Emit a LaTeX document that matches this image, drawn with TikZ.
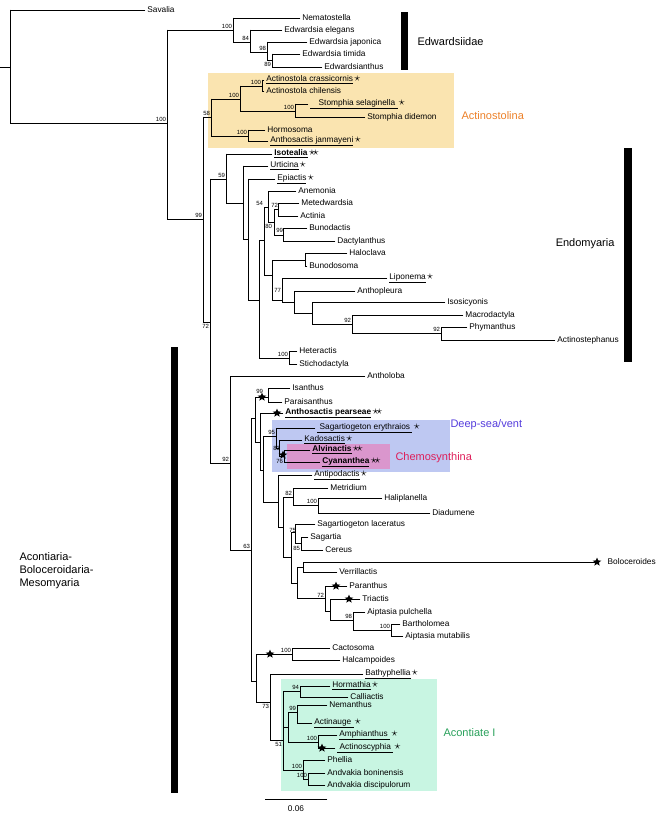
\documentclass[tikz,border=0pt]{standalone}
\usepackage{fontspec}
\setmainfont{Liberation Sans}
\usetikzlibrary{shapes.geometric}

\definecolor{actbox}{RGB}{250,228,176}
\definecolor{acttext}{RGB}{236,128,40}
\definecolor{deepbox}{RGB}{190,200,242}
\definecolor{deeptext}{RGB}{84,60,220}
\definecolor{chembox}{RGB}{218,150,205}
\definecolor{chemtext}{RGB}{222,30,90}
\definecolor{acobox}{RGB}{200,245,226}
\definecolor{acotext}{RGB}{40,160,90}

\tikzset{
  branch/.style={line width=0.75pt, line cap=rect},
  tip/.style={anchor=west, inner sep=2pt, font=\fontsize{8.3}{10}\selectfont},
  boot/.style={inner sep=0.8pt, font=\fontsize{6}{7}\selectfont},
  bstar/.style={star, star points=5, star point ratio=2.3, fill, inner sep=0pt, minimum size=9pt},
  clade/.style={font=\fontsize{11}{13}\selectfont, anchor=west, align=left}
}

\newcommand{\Vb}[3]{\draw[branch] (#1,#2) -- (#1,#3);}
\newcommand{\Hb}[3]{\draw[branch] (#1,#3) -- (#2,#3);}
\newcommand{\Tip}[4]{\draw[branch] (#1,#3) -- (#2,#3) node[tip] {#4};}
\newcommand{\Bs}[3]{\node[boot, anchor=south east] at (#1,#2) {#3};}
\newcommand{\Bsb}[3]{\node[boot, anchor=north east] at (#1,#2) {#3};}
\newcommand{\St}[2]{\node[bstar] at (#1,#2) {};}
\newcommand{\ul}[1]{\underline{#1}}
\newcommand{\sk}{\,{\large$\star$}}
\newcommand{\skk}{\,{\large$\star\!\star$}}

\begin{document}
\begin{tikzpicture}[x=1pt, y=-1pt]
\useasboundingbox (0,0) rectangle (661,821);

    % Clade boxes
    \fill[actbox] (208,73) rectangle (454,148);
    \fill[deepbox] (272,420) rectangle (450,472);
    \fill[chembox] (287,444) rectangle (390,469);
    \fill[acobox] (281,679) rectangle (437,791);

    % Root and Savalia
    \draw[branch] (0,67) -- (10,67);
    \Vb{10}{10}{123}
    \Tip{10}{145}{10}{Savalia}
    \Hb{10}{167}{123} \Bs{167}{123}{100}
    \Vb{167}{30}{219}

    % Edwardsiidae
    \Hb{167}{233}{30} \Bs{233}{30}{100}
    \Vb{233}{18}{42}
    \Tip{233}{300}{18}{Nematostella}
    \Hb{233}{250}{42} \Bs{250}{42}{84}
    \Vb{250}{30}{52}
    \Tip{250}{282}{30}{Edwardsia elegans}
    \Hb{250}{267}{52} \Bs{267}{52}{98}
    \Vb{267}{42}{60}
    \Tip{267}{307}{42}{Edwardsia japonica}
    \Hb{267}{272}{60} \Bsb{272}{61}{89}
    \Vb{272}{54}{67}
    \Tip{272}{300}{54}{Edwardsia timida}
    \Tip{272}{322}{67}{Edwardsianthus}

    % Actinostolina
    \Hb{167}{203}{219} \Bs{203}{219}{99}
    \Vb{203}{117}{322}
    \Hb{203}{211}{117} \Bs{211}{117}{58}
    \Vb{211}{99}{136}
    \Hb{211}{240}{99} \Bs{240}{99}{100}
    \Vb{240}{86}{111}
    \Hb{240}{262}{86} \Bs{262}{86}{100}
    \Vb{262}{80}{91}
    \Tip{262}{264}{80}{\ul{Actinostola crassicornis}\sk}
    \Tip{262}{264}{91}{Actinostola chilensis}
    \Hb{240}{295}{111} \Bs{295}{111}{100}
    \Vb{295}{104}{117}
    \Tip{295}{308}{104}{\ul{\quad Stomphia selaginella\ }\sk}
    \Tip{295}{365}{117}{Stomphia didemon}
    \Hb{211}{248}{136} \Bs{248}{136}{100}
    \Vb{248}{130}{141}
    \Tip{248}{265}{130}{Hormosoma}
    \Tip{248}{268}{141}{\ul{Anthosactis janmayeni}\sk}

    % Endomyaria
    \Hb{203}{210}{322} \Bsb{210}{323}{72}
    \Vb{210}{179}{463}
    \Hb{210}{226}{179} \Bs{226}{179}{59}
    \Vb{226}{154}{203}
    \Tip{226}{272}{154}{\ul{\textbf{Isotealia}}\skk}
    \Hb{226}{243}{203}
    \Vb{243}{166}{239}
    \Tip{243}{268}{166}{\ul{Urticina}\sk}
    \Hb{243}{248}{239}
    \Vb{248}{179}{300}
    \Tip{248}{275}{179}{\ul{Epiactis}\sk}
    \Hb{248}{259}{300}
    \Vb{259}{240}{358}
    \Hb{259}{264}{240}
    \Vb{264}{207}{275}
    \Hb{264}{268}{207} \Bs{264}{207}{54}
    \Vb{268}{191}{222}
    \Tip{268}{296}{191}{Anemonia}
    \Hb{268}{274}{222} \Bsb{273}{223}{80}
    \Vb{274}{209}{235}
    \Hb{274}{278}{209} \Bs{279}{208}{72}
    \Vb{278}{203}{216}
    \Tip{278}{299}{203}{Metedwardsia}
    \Tip{278}{298}{216}{Actinia}
    \Hb{274}{283}{235} \Bs{284}{234}{99}
    \Vb{283}{228}{241}
    \Tip{283}{307}{228}{Bunodactis}
    \Tip{283}{335}{241}{Dactylanthus}
    \Hb{264}{272}{275}
    \Vb{272}{260}{300}
    \Hb{272}{305}{260}
    \Vb{305}{253}{266}
    \Tip{305}{347}{253}{Haloclava}
    \Tip{305}{307}{266}{Bunodosoma}
    \Hb{272}{282}{300} \Bs{282}{293}{77}
    \Vb{282}{278}{302}
    \Tip{282}{387}{278}{\ul{Liponema}\sk}
    \Hb{282}{294}{302}
    \Vb{294}{291}{313}
    \Tip{294}{355}{291}{Anthopleura}
    \Hb{294}{312}{313}
    \Vb{312}{302}{324}
    \Tip{312}{445}{302}{Isosicyonis}
    \Hb{312}{352}{324} \Bs{352}{324}{92}
    \Vb{352}{315}{333}
    \Tip{352}{463}{315}{Macrodactyla}
    \Hb{352}{441}{333} \Bs{441}{333}{92}
    \Vb{441}{327}{340}
    \Tip{441}{467}{327}{Phymanthus}
    \Tip{441}{555}{340}{Actinostephanus}
    \Hb{259}{289}{358} \Bs{289}{358}{100}
    \Vb{289}{351}{364}
    \Tip{289}{297}{351}{Heteractis}
    \Tip{289}{297}{364}{Stichodactyla}

    % Acontiaria-Boloceroidaria-Mesomyaria
    \Hb{210}{230}{463} \Bs{230}{463}{92}
    \Vb{230}{376}{550}
    \Tip{230}{365}{376}{Antholoba}
    \Hb{230}{251}{550} \Bs{251}{550}{63}
    \Vb{251}{418}{681}
    \Hb{251}{255}{418}
    \Vb{255}{397}{442}
    \Hb{255}{268}{397} \Bs{264}{395}{99}
    \Vb{268}{388}{402}
    \Tip{268}{290}{388}{Isanthus}
    \Tip{268}{282}{402}{Paraisanthus}
    \Hb{255}{260}{442}
    \Vb{260}{413}{470}
    \Tip{260}{283}{413}{\ul{\textbf{Anthosactis pearseae}}\skk}
    \Hb{260}{263}{470}
    \Vb{263}{436}{502}
    \Hb{263}{276}{436} \Bs{276}{436}{95}
    \Vb{276}{428}{448}
    \Tip{276}{315}{428}{\ul{\ Sagartiogeton erythraios\ }\sk}
    \Hb{276}{279}{448} \Bs{281}{452}{83}
    \Vb{279}{440}{456}
    \Tip{279}{302}{440}{\ul{Kadosactis}\sk}
    \Hb{279}{284}{456} \Bsb{284}{458}{76}
    \Vb{284}{450}{462}
    \Tip{284}{310}{450}{\ul{\textbf{Alvinactis}}\skk}
    \Tip{284}{320}{462}{\ul{\textbf{Cyananthea}}\skk}
    \Hb{263}{278}{502}
    \Vb{278}{475}{527}
    \Tip{278}{312}{475}{\ul{Antipodactis}\sk}
    \Hb{278}{283}{527}
    \Vb{283}{497}{557}
    \Hb{283}{293}{497} \Bs{293}{497}{82}
    \Vb{293}{488}{505}
    \Tip{293}{328}{488}{Metridium}
    \Hb{293}{318}{505} \Bs{318}{505}{100}
    \Vb{318}{498}{513}
    \Tip{318}{382}{498}{Haliplanella}
    \Tip{318}{430}{513}{Diadumene}
    \Hb{283}{291}{557}
    \Vb{291}{532}{583}
    \Hb{291}{295}{532} \Bs{297}{534}{75}
    \Vb{295}{524}{543}
    \Tip{295}{315}{524}{Sagartiogeton laceratus}
    \Hb{295}{301}{543} \Bsb{301}{545}{85}
    \Vb{301}{537}{550}
    \Tip{301}{308}{537}{Sagartia}
    \Tip{301}{323}{550}{Cereus}
    \Hb{291}{297}{583}
    \Vb{297}{567}{598}
    \Hb{297}{303}{567}
    \Vb{303}{562}{572}
    \Tip{303}{597}{562}{\quad Boloceroides}
    \Tip{303}{337}{572}{Verrillactis}
    \Hb{297}{325}{598} \Bs{325}{598}{72}
    \Vb{325}{586}{611}
    \Tip{325}{347}{586}{Paranthus}
    \Hb{325}{330}{611}
    \Vb{330}{599}{620}
    \Tip{330}{360}{599}{Triactis}
    \Hb{330}{353}{620} \Bs{353}{620}{98}
    \Vb{353}{612}{630}
    \Tip{353}{365}{612}{Aiptasia pulchella}
    \Hb{353}{391}{630} \Bs{391}{630}{100}
    \Vb{391}{624}{636}
    \Tip{391}{400}{624}{Bartholomea}
    \Tip{391}{403}{636}{Aiptasia mutabilis}
    \Hb{251}{256}{681}
    \Vb{256}{654}{702}
    \Hb{256}{292}{654} \Bs{292}{654}{100}
    \Vb{292}{648}{660}
    \Tip{292}{330}{648}{Cactosoma}
    \Tip{292}{340}{660}{Halcampoides}
    \Hb{256}{270}{702} \Bsb{270}{703}{73}
    \Vb{270}{674}{740}
    \Tip{270}{363}{674}{\ul{Bathyphellia}\sk}
    \Hb{270}{283}{740} \Bsb{283}{741}{51}

    % Acontiate I
    \Vb{283}{691}{770}
    \Hb{283}{300}{691} \Bs{300}{691}{94}
    \Vb{300}{686}{697}
    \Tip{300}{330}{686}{\ul{Hormathia}\sk}
    \Tip{300}{348}{697}{Calliactis}
    \Hb{283}{288}{727}
    \Vb{288}{712}{742}
    \Hb{288}{297}{712} \Bs{297}{712}{99}
    \Vb{297}{705}{723}
    \Tip{297}{327}{705}{Nemanthus}
    \Tip{297}{312}{723}{\ul{Actinauge\ }\sk}
    \Hb{288}{318}{742} \Bs{318}{742}{100}
    \Vb{318}{735}{748}
    \Tip{318}{337}{735}{\ul{Amphianthus\ }\sk}
    \Tip{318}{335}{748}{\ul{\ Actinoscyphia\ }\sk}
    \Hb{283}{303}{770} \Bs{303}{770}{100}
    \Vb{303}{760}{779}
    \Tip{303}{325}{760}{Phellia}
    \Hb{303}{308}{779} \Bs{308}{779}{100}
    \Vb{308}{773}{785}
    \Tip{308}{325}{773}{Andvakia boninensis}
    \Tip{308}{325}{785}{Andvakia discipulorum}

    % Stars on branches
    \St{262}{397} \St{277}{413} \St{283}{455} \St{597}{562}
    \St{336}{586} \St{349}{599} \St{270}{654} \St{322}{748}

    % Clade bars and names
    \fill (401,12) rectangle (408,70);
    \node[clade] at (414,42) {Edwardsiidae};
    \node[clade, text=acttext] at (458,116) {Actinostolina};
    \fill (624,148) rectangle (632,362);
    \node[clade, anchor=east] at (618,244) {Endomyaria};
    \fill (171,347) rectangle (178,793);
    \node[clade] at (16,571) {Acontiaria-\\Boloceroidaria-\\Mesomyaria};
    \node[clade, text=deeptext] at (447,425) {Deep-sea/vent};
    \node[clade, text=chemtext] at (392,458) {Chemosynthina};
    \node[clade, text=acotext] at (440,733) {Acontiate I};

    % Scale
    \draw[branch] (265,799) -- (327,799) node[midway, below=3pt, font=\fontsize{8.3}{10}\selectfont] {0.06};

\end{tikzpicture}
\end{document}
